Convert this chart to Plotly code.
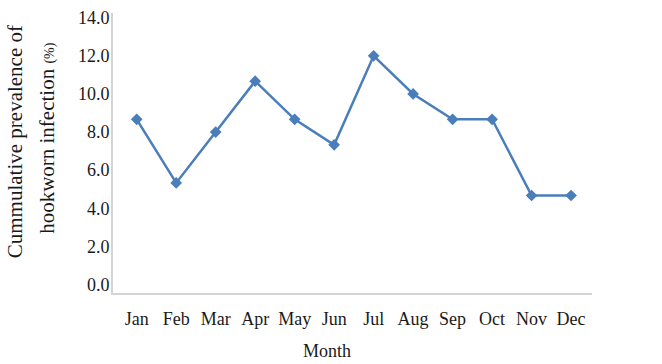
import plotly.graph_objects as go

months = ["Jan", "Feb", "Mar", "Apr", "May", "Jun", "Jul", "Aug", "Sep", "Oct", "Nov", "Dec"]
prevalence = [8.67, 5.33, 8.0, 10.67, 8.67, 7.33, 12.0, 10.0, 8.67, 8.67, 4.67, 4.67]
y_ticks = [0, 2, 4, 6, 8, 10, 12, 14]

FONT = "Liberation Serif"
LINE = "#4a7ebb"

fig = go.Figure()
fig.add_trace(go.Scatter(
    x=list(range(len(months))), y=prevalence, mode="lines+markers",
    line=dict(color=LINE, width=2.5),
    marker=dict(symbol="diamond", size=9, color=LINE),
    showlegend=False, hoverinfo="skip",
))

fig.update_layout(
    width=662, height=364,
    margin=dict(l=113, r=70, t=8, b=71),
    paper_bgcolor="white", plot_bgcolor="white",
    font=dict(family=FONT, size=18, color="#1a1a1a"),
    xaxis=dict(
        tickmode="array", tickvals=list(range(len(months))), ticktext=months,
        range=[-0.6, 11.53], showgrid=False, zeroline=False,
        showline=True, linecolor="#d4d4d4", linewidth=2,
        ticks="", ticklabelstandoff=8,
    ),
    yaxis=dict(
        tickmode="array", tickvals=y_ticks, ticktext=[f"{v:.1f}" for v in y_ticks],
        range=[-0.45, 14.25], showgrid=False, zeroline=False,
        showline=True, linecolor="#d4d4d4", linewidth=2,
        ticks="", ticklabelstandoff=-2,
    ),
    annotations=[
        dict(text="Cummulative prevalence of",
             textangle=-90, xref="paper", yref="paper", x=-0.2046, y=0.542,
             xanchor="center", yanchor="middle", showarrow=False,
             font=dict(family=FONT, size=21)),
        dict(text="hookworn infection <span style='font-size:14px'>(%)</span>",
             textangle=-90, xref="paper", yref="paper", x=-0.1378, y=0.554,
             xanchor="center", yanchor="middle", showarrow=False,
             font=dict(family=FONT, size=21)),
        dict(text="Month", xref="paper", yref="paper", x=0.447, y=-0.207,
             xanchor="center", yanchor="middle", showarrow=False,
             font=dict(family=FONT, size=18)),
    ],
)

fig.write_html("out.html", config={"displayModeBar": False},
               post_script="document.body.style.margin='0';")
